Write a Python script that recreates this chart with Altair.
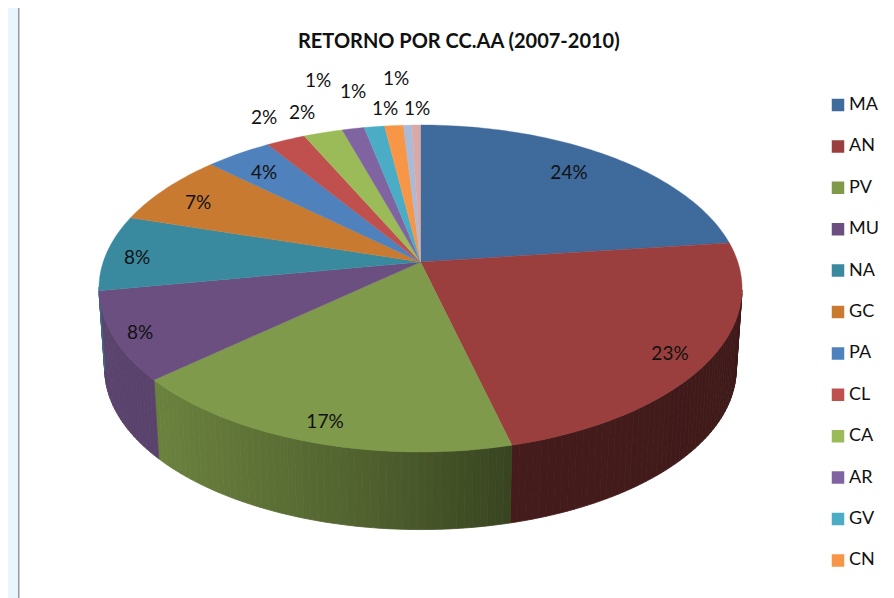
import math
import altair as alt

# ---- data ----
names = ["MA", "AN", "PV", "MU", "NA", "GC", "PA", "CL", "CA", "AR", "GV", "CN", "X1", "X2"]
legend_names = names[:12]
shares = [23.05, 23.05, 17.4, 8.7, 7.5, 7.2, 3.9, 2.3, 2.3, 1.3, 1.2, 1.1, 0.5, 0.5]
labels = ["24%", "23%", "17%", "8%", "8%", "7%", "4%", "2%", "2%", "1%", "1%", "1%", "1%", "1%"]
colors = ["#3f6a9c", "#9a3f3e", "#7f9a4a", "#6a4f80", "#3a8a9f", "#c97a31", "#4f81bd",
          "#c0504d", "#9bbb59", "#8064a2", "#4bacc6", "#f79646", "#aabad7", "#d9a9a8"]

# ---- layout (page pixels) ----
CX, CY, A, B, K = 420.5, 262.0, 159.2, 317.3, 0.162
DEPTH, SHRINK = 81.0, 0.982
label_xy = [(569, 173), (670, 354), (325, 422), (140, 333), (137, 258), (198, 203), (264, 173),
            (264, 118), (302, 113), (318, 81), (353, 92), (396, 79), (385, 109), (417, 109)]
FONT = "Lato"
PROJ = dict(type="identity", scale=1, translate=[-8, -8])


def top_pt(t):
    u, v = math.sin(t), -math.cos(t)
    w = 1 - K * v
    return [CX + B * u / w, CY + A * v / w]


def bot_pt(t):
    x, y = top_pt(t)
    return [CX + (x - CX) * SHRINK, CY + (y - CY) * SHRINK + DEPTH]


def poly(ring, **props):
    return {"type": "Feature", "properties": props,
            "geometry": {"type": "Polygon", "coordinates": [ring + [ring[0]]]}}


def shade(x):
    xs = [99, 160, 360, 510, 742]
    fs = [0.85, 0.84, 0.64, 0.45, 0.41]
    for i in range(4):
        if x <= xs[i + 1]:
            f = (x - xs[i]) / (xs[i + 1] - xs[i])
            return fs[i] + (fs[i + 1] - fs[i]) * max(f, 0)
    return fs[-1]


def darker(hexc, f):
    r, g, b = [int(hexc[i:i + 2], 16) for i in (1, 3, 5)]
    return "#%02x%02x%02x" % (int(r * f), int(g * f), int(b * f))


tops, walls = [], []
cum = 0.0
total = sum(shares)
for name, share, col in zip(names, shares, colors):
    a0 = cum / total * 2 * math.pi
    cum += share
    a1 = cum / total * 2 * math.pi
    n = max(2, int(share * 3))
    ts = [a0 + (a1 - a0) * i / n for i in range(n + 1)]
    tops.append(poly([[CX, CY]] + [top_pt(t) for t in ts], name=name))
    for s0, s1 in zip(ts[:-1], ts[1:]):
        if -math.cos((s0 + s1) / 2) > K:
            mx = (top_pt(s0)[0] + top_pt(s1)[0]) / 2
            walls.append(poly([top_pt(s0), top_pt(s1), bot_pt(s1), bot_pt(s0)],
                              c=darker(col, shade(mx))))

frame = [poly([[8, 0], [18, 0], [18, 598], [8, 598]], c="#eaf6fe"),
         poly([[18, 5], [19.5, 5], [19.5, 598], [18, 598]], c="#9a9a9a")]

frame_l = alt.Chart(alt.Data(values=frame)).mark_geoshape(strokeWidth=0).encode(
    color=alt.Color("properties.c:N", scale=None)).project(**PROJ)
wall_l = alt.Chart(alt.Data(values=walls)).mark_geoshape(strokeWidth=0.8).encode(
    color=alt.Color("properties.c:N", scale=None),
    stroke=alt.Stroke("properties.c:N", scale=None)).project(**PROJ)
top_l = alt.Chart(alt.Data(values=tops)).mark_geoshape(strokeWidth=0.4).encode(
    color=alt.Color("properties.name:N",
                    scale=alt.Scale(domain=names, range=colors),
                    legend=alt.Legend(values=legend_names, orient="none", legendX=821, legendY=88,
                                      title=None, symbolType="square", symbolSize=156,
                                      symbolStrokeWidth=0, labelFont=FONT, labelFontSize=18,
                                      labelColor="#111111", labelOffset=2, rowPadding=23.4,
                                      clipHeight=18)),
    stroke=alt.Stroke("properties.name:N", scale=alt.Scale(domain=names, range=colors), legend=None),
).project(**PROJ)

label_rows = [{"t": t, "lon": p[0], "lat": p[1]} for t, p in zip(labels, label_xy)]
text_l = alt.Chart(alt.Data(values=label_rows)).mark_text(
    font=FONT, fontSize=19, color="#111111", align="center", baseline="middle"
).encode(longitude="lon:Q", latitude="lat:Q", text="t:N").project(**PROJ)

chart = alt.layer(frame_l, wall_l, top_l, text_l).resolve_scale(color="independent", stroke="independent").properties(
    width=878, height=590, padding=0,
    autosize=alt.AutoSizeParams(type="none"),
    title=alt.TitleParams("RETORNO POR CC.AA (2007-2010)", font=FONT, fontSize=20, fontWeight="bold",
                          color="#111111", anchor="start", frame="group", dx=290, dy=44, offset=0),
).configure_view(stroke=None)

chart.save("out.html", embed_options={"renderer": "svg", "actions": False})
